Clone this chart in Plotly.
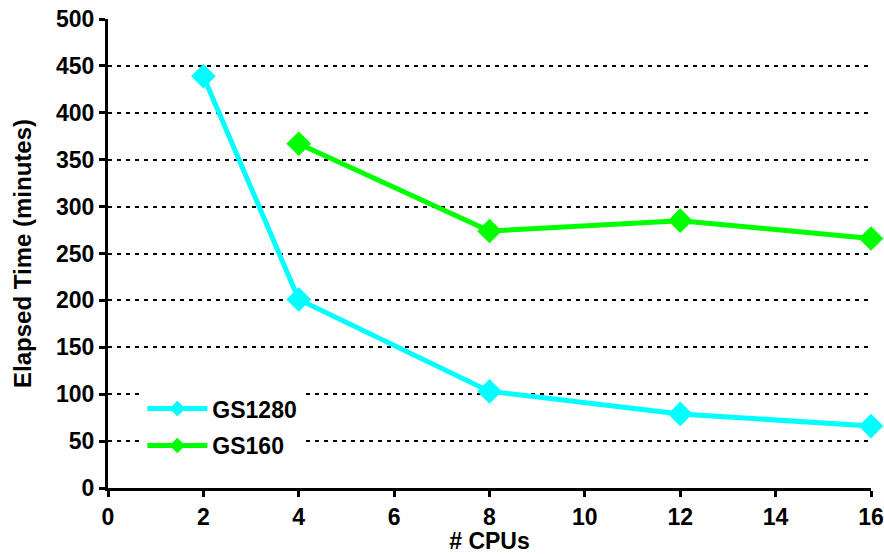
import plotly.graph_objects as go

cpus_1280 = [2, 4, 8, 12, 16]
time_1280 = [439, 201, 103, 79, 66]
cpus_160 = [4, 8, 12, 16]
time_160 = [367, 274, 285, 266]
x_ticks = [0, 2, 4, 6, 8, 10, 12, 14, 16]
y_ticks = [0, 50, 100, 150, 200, 250, 300, 350, 400, 450, 500]

FAM = "Liberation Sans, Arial, sans-serif"
CYAN = "#00FFFF"
GREEN = "#00FF00"

fig = go.Figure()
fig.add_trace(go.Scatter(x=cpus_1280, y=time_1280, name="GS1280", mode="lines+markers",
                         line=dict(color=CYAN, width=5),
                         marker=dict(symbol="diamond", size=19, color=CYAN),
                         cliponaxis=False, showlegend=False))
fig.add_trace(go.Scatter(x=cpus_160, y=time_160, name="GS160", mode="lines+markers",
                         line=dict(color=GREEN, width=5),
                         marker=dict(symbol="diamond", size=19, color=GREEN),
                         cliponaxis=False, showlegend=False))
# legend entries (smaller markers, as in the reference legend)
fig.add_trace(go.Scatter(x=[None], y=[None], name="GS1280", mode="lines+markers",
                         line=dict(color=CYAN, width=5),
                         marker=dict(symbol="diamond", size=12, color=CYAN),
                         legendgroup="a", showlegend=True))
fig.add_trace(go.Scatter(x=[None], y=[None], name="GS160", mode="lines+markers",
                         line=dict(color=GREEN, width=5),
                         marker=dict(symbol="diamond", size=12, color=GREEN),
                         legendgroup="b", showlegend=True))

tick_font = dict(family=FAM, size=23, color="black", weight="bold")

fig.update_layout(
    width=884, height=554,
    margin=dict(l=108, r=13, t=19, b=66),
    paper_bgcolor="white", plot_bgcolor="white",
    font=dict(family=FAM, size=20, color="black"),
    showlegend=True,
    legend=dict(x=0.045, y=0.215, xanchor="left", yanchor="top", bgcolor="white",
                font=dict(family=FAM, size=23, color="black", weight="bold"),
                itemwidth=60, tracegroupgap=4, traceorder="grouped"),
    xaxis=dict(range=[0, 16], tickvals=x_ticks, showgrid=False, zeroline=False,
               automargin=False,
               showline=True, linecolor="black", linewidth=3,
               ticks="outside", ticklen=6, tickwidth=3, tickcolor="black",
               tickfont=tick_font,
               title=dict(text="# CPUs", standoff=3,
                          font=dict(family=FAM, size=23, color="black", weight="bold"))),
    yaxis=dict(range=[0, 500], tickvals=y_ticks, zeroline=False, automargin=False,
               showgrid=True, gridcolor="black", gridwidth=2, griddash="4px,5px",
               showline=True, linecolor="black", linewidth=3,
               ticks="outside", ticklen=6, tickwidth=3, tickcolor="black",
               tickfont=tick_font,
               title=dict(text="Elapsed Time (minutes)", standoff=18,
                          font=dict(family=FAM, size=24, color="black", weight="bold"))),
)

fig.write_html("out.html")
